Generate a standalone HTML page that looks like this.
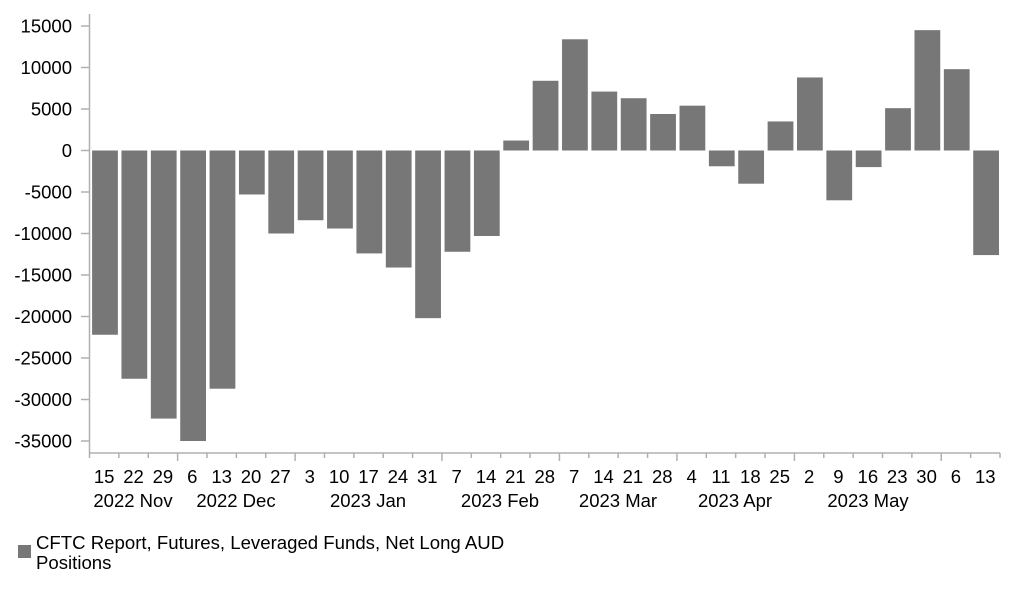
<!DOCTYPE html>
<html><head><meta charset="utf-8"><style>
html,body{margin:0;padding:0;background:#fff;}
svg text{font-family:"Liberation Sans",Arial,sans-serif;fill:#000;}
</style></head><body>
<svg width="1022" height="597" viewBox="0 0 1022 597" xmlns="http://www.w3.org/2000/svg">
<line x1="89.5" y1="14" x2="89.5" y2="453" stroke="#b0b0b0" stroke-width="1.5"/>
<line x1="89.5" y1="453" x2="1000" y2="453" stroke="#b0b0b0" stroke-width="1.5"/>
<g font-size="18.5" text-anchor="end">
<text x="72" y="32.5">15000</text>
<text x="72" y="74">10000</text>
<text x="72" y="115.5">5000</text>
<text x="72" y="157">0</text>
<text x="72" y="198.5">-5000</text>
<text x="72" y="240">-10000</text>
<text x="72" y="281.5">-15000</text>
<text x="72" y="323">-20000</text>
<text x="72" y="364.5">-25000</text>
<text x="72" y="406">-30000</text>
<text x="72" y="447.5">-35000</text>
</g>
<g stroke="#b0b0b0" stroke-width="1.5">
<line x1="81" y1="26" x2="89" y2="26"/><line x1="81" y1="67.5" x2="89" y2="67.5"/><line x1="81" y1="109" x2="89" y2="109"/><line x1="81" y1="150.5" x2="89" y2="150.5"/><line x1="81" y1="192" x2="89" y2="192"/><line x1="81" y1="233.5" x2="89" y2="233.5"/><line x1="81" y1="275" x2="89" y2="275"/><line x1="81" y1="316.5" x2="89" y2="316.5"/><line x1="81" y1="358" x2="89" y2="358"/><line x1="81" y1="399.5" x2="89" y2="399.5"/><line x1="81" y1="441" x2="89" y2="441"/>
</g>
<g id="bars" fill="#777777"></g>
<g id="xt" stroke="#b0b0b0" stroke-width="1.5"></g>
<g id="xl" font-size="18.5" text-anchor="middle"></g>
<g font-size="18.5" text-anchor="middle">
<text x="133" y="507">2022 Nov</text>
<text x="236" y="507">2022 Dec</text>
<text x="368" y="507">2023 Jan</text>
<text x="500" y="507">2023 Feb</text>
<text x="618" y="507">2023 Mar</text>
<text x="735" y="507">2023 Apr</text>
<text x="868" y="507">2023 May</text>
</g>
<rect x="18" y="545" width="13" height="13" fill="#777777"/>
<text x="36" y="549" font-size="18.6">CFTC Report, Futures, Leveraged Funds, Net Long AUD</text>
<text x="36" y="569" font-size="18.6">Positions</text>
<script>
var v=[-22200,-27500,-32300,-35000,-28700,-5300,-10000,-8400,-9400,-12400,-14100,-20200,-12200,-10300,1200,8400,13400,7100,6300,4400,5400,-1900,-4000,3500,8800,-6000,-2000,5100,14500,9800,-12600];
var lab=["15","22","29","6","13","20","27","3","10","17","24","31","7","14","21","28","7","14","21","28","4","11","18","25","2","9","16","23","30","6","13"];
var big=[3,7,12,16,20,24,29];
var ns="http://www.w3.org/2000/svg",p=910.5/31,x0=89.5,z=150.5,k=0.0083;
var b=document.getElementById("bars"),t=document.getElementById("xt"),l=document.getElementById("xl");
for(var i=0;i<31;i++){var r=document.createElementNS(ns,"rect");var y1=z,y2=z-v[i]*k;r.setAttribute("x",x0+i*p+2.6);r.setAttribute("width",p-3.6);r.setAttribute("y",Math.min(y1,y2));r.setAttribute("height",Math.abs(y2-y1));b.appendChild(r);
var tx=document.createElementNS(ns,"text");tx.setAttribute("x",x0+(i+0.5)*p);tx.setAttribute("y",483);tx.textContent=lab[i];l.appendChild(tx);}
for(var i=0;i<=31;i++){var ln=document.createElementNS(ns,"line");var xx=x0+i*p;ln.setAttribute("x1",xx);ln.setAttribute("x2",xx);ln.setAttribute("y1",453);ln.setAttribute("y2",big.indexOf(i)>=0?461:458);t.appendChild(ln);}
</script>
</svg>
</body></html>
